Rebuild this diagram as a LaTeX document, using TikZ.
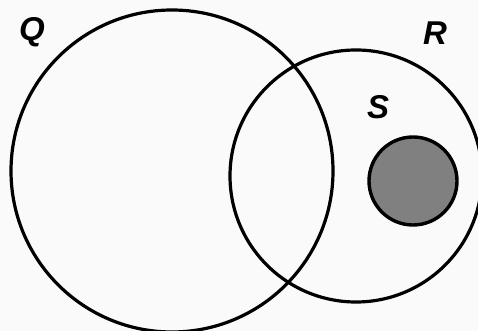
\documentclass[tikz,border=0pt]{standalone}
\usepackage{fontspec}
\setmainfont{Liberation Sans}
\begin{document}
\begin{tikzpicture}[x=1pt,y=1pt,
  setcircle/.style={draw=black, line width=3.2pt},
  setlabel/.style={font=\fontsize{33}{33}\selectfont\bfseries\itshape, inner sep=0pt}]
\fill[white!96!gray] (0,0) rectangle (478,331);
\useasboundingbox (0,0) rectangle (478,331);
\node[setcircle, circle, minimum size=322pt, inner sep=0pt] (Q) at (172,160) {};
\node[setcircle, circle, minimum size=252pt, inner sep=0pt] (R) at (356,155) {};
\node[setcircle, circle, minimum size=88pt, inner sep=0pt, fill=black!50, line width=3.4pt] (S) at (413,150) {};
\node[setlabel] (lQ) at (32,299) {Q};
\node[setlabel] (lR) at (435,298) {R};
\node[setlabel] (lS) at (378,224) {S};
\end{tikzpicture}
\end{document}
